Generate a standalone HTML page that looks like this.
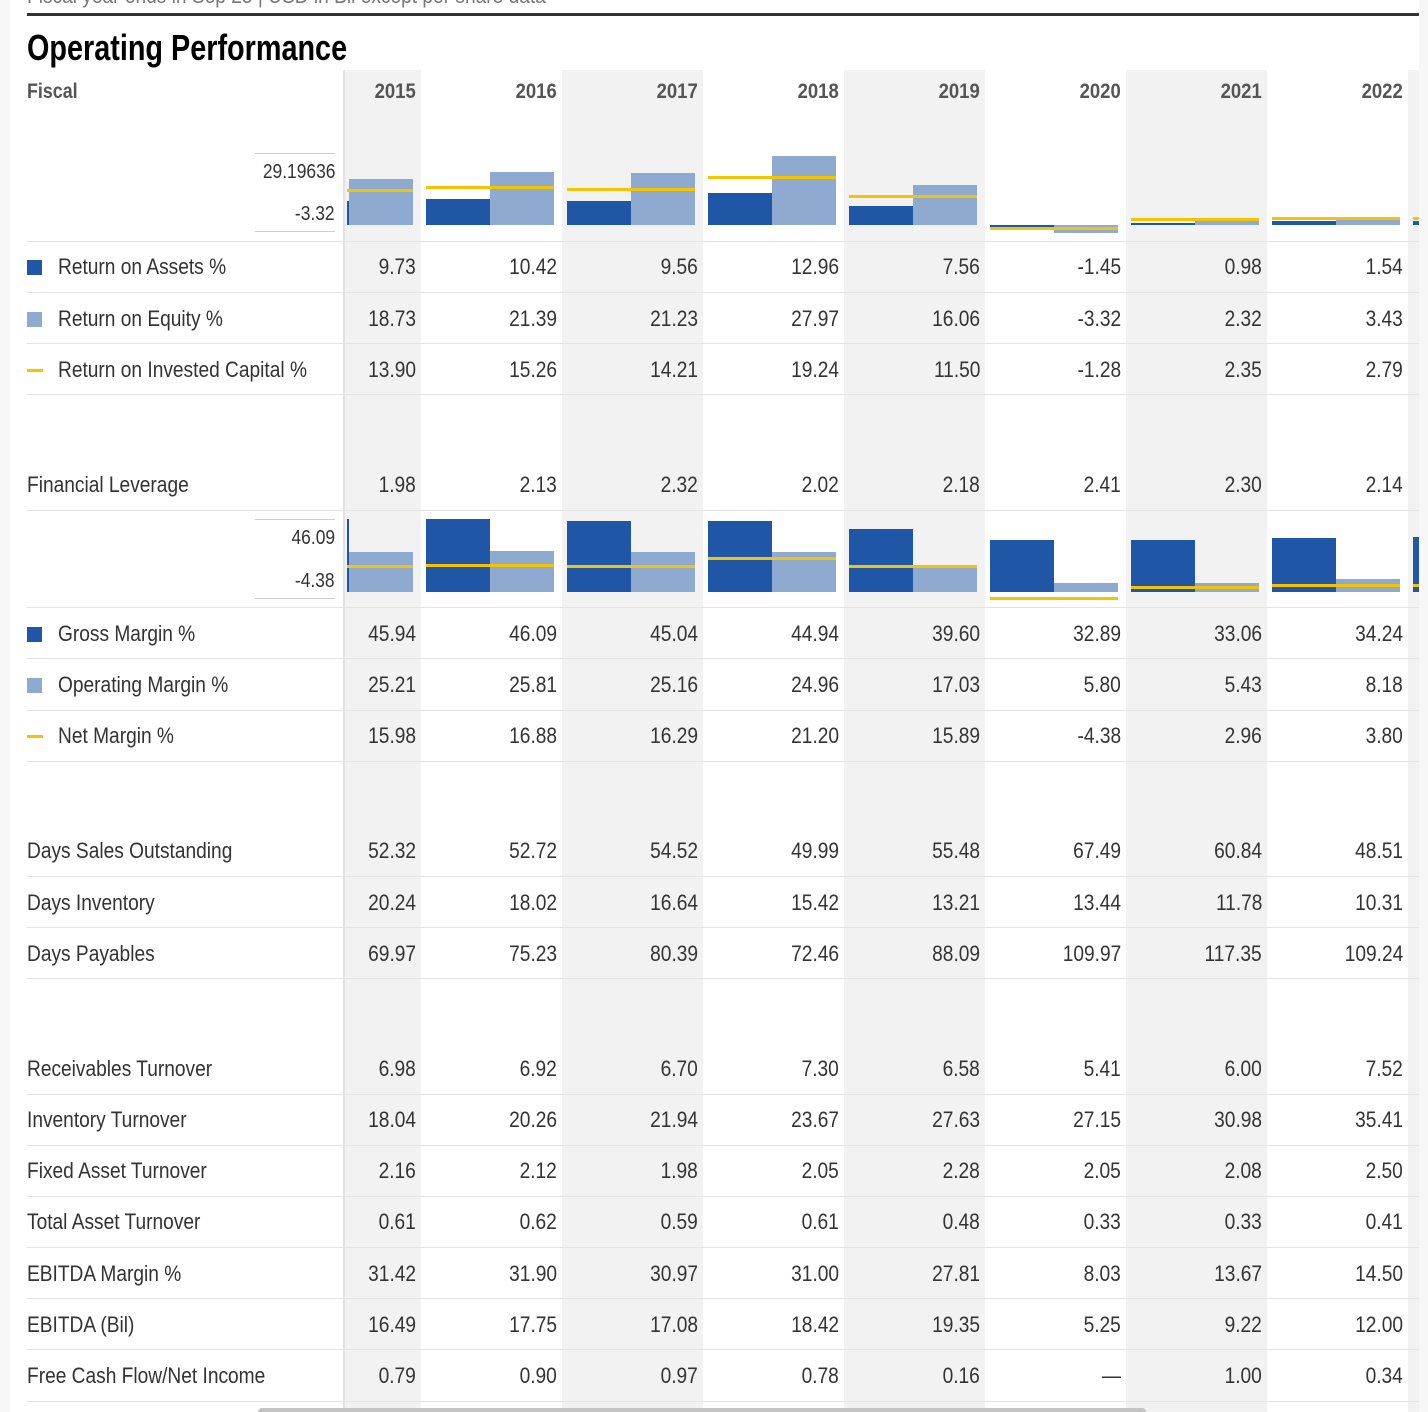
<!DOCTYPE html>
<html><head><meta charset="utf-8">
<style>
html,body{margin:0;padding:0;}
body{width:1428px;height:1412px;background:#f7f7f7;position:relative;overflow:hidden;font-family:"Liberation Sans Narrow","Liberation Sans",sans-serif;color:#333;}
#page{position:absolute;left:10px;top:0;width:1409px;height:1412px;background:#fff;overflow:hidden;}
.abs{position:absolute;}
.t{position:absolute;white-space:nowrap;line-height:30px;height:30px;}
</style></head>
<body>
<div id="page"></div>
<script>
const years=["2015","2016","2017","2018","2019","2020","2021","2022","2023"];
const roa=[9.73,10.42,9.56,12.96,7.56,-1.45,0.98,1.54,1.6];
const roe=[18.73,21.39,21.23,27.97,16.06,-3.32,2.32,3.43,3.5];
const roic=[13.90,15.26,14.21,19.24,11.50,-1.28,2.35,2.79,2.8];
const finLev=["1.98","2.13","2.32","2.02","2.18","2.41","2.30","2.14"];
const gross=[45.94,46.09,45.04,44.94,39.60,32.89,33.06,34.24,34.5];
const opm=[25.21,25.81,25.16,24.96,17.03,5.80,5.43,8.18,8.2];
const netm=[15.98,16.88,16.29,21.20,15.89,-4.38,2.96,3.80,3.9];
const dso=["52.32","52.72","54.52","49.99","55.48","67.49","60.84","48.51"];
const dinv=["20.24","18.02","16.64","15.42","13.21","13.44","11.78","10.31"];
const dpay=["69.97","75.23","80.39","72.46","88.09","109.97","117.35","109.24"];
const recT=["6.98","6.92","6.70","7.30","6.58","5.41","6.00","7.52"];
const invT=["18.04","20.26","21.94","23.67","27.63","27.15","30.98","35.41"];
const faT=["2.16","2.12","1.98","2.05","2.28","2.05","2.08","2.50"];
const taT=["0.61","0.62","0.59","0.61","0.48","0.33","0.33","0.41"];
const ebm=["31.42","31.90","30.97","31.00","27.81","8.03","13.67","14.50"];
const ebitda=["16.49","17.75","17.08","18.42","19.35","5.25","9.22","12.00"];
const fcf=["0.79","0.90","0.97","0.78","0.16","—","1.00","0.34"];

const P=document.getElementById('page');
const OX=10;
function box(x,y,w,h,bg,name){const d=document.createElement('div');d.className='abs';d.style.cssText=`left:${x-OX}px;top:${y}px;width:${w}px;height:${h}px;background:${bg}`;


P.appendChild(d);return d;}
function txt(s,x,cy,opt,name){const d=document.createElement('div');d.className='t';d.textContent=s;
d.style.top=(cy-15)+'px';d.style.fontSize=(opt.fs||22)+'px';d.style.color=opt.c||'#333';if(opt.b)d.style.fontWeight='bold';
const sx=opt.sx||0.87;
if(opt.r){d.style.right=(1409-(x-OX))+'px';d.style.transformOrigin='right center';}else{d.style.left=(x-OX)+'px';d.style.transformOrigin='left center';}
d.style.transform=`scaleX(${sx})`;


P.appendChild(d);return d;}
const colL=i=>280+141*i, colR=i=>421+141*i;

for(let i=0;i<years.length;i+=2){const l=Math.max(colL(i),345);box(l,70,colR(i)-l,1342,'#f2f2f2','column-shade-'+years[i]);}
box(343,70,2,1342,'#e2e2e2','label-column-divider');
txt('Fiscal year ends in Sep 25 | USD in Bil except per share data',27,-4,{fs:22,c:'#777'},'subtitle');
box(27,13,1392,3,'#333','top-rule');
txt('Operating Performance',27,48,{fs:36,c:'#000',b:true,sx:0.8},'section-title');
txt('Fiscal',27,92,{fs:21,c:'#555',b:true,sx:0.85},'fiscal-header');
for(let i=0;i<8;i++)txt(years[i],colR(i)-5,92,{fs:21,c:'#555',b:true,r:true,sx:0.88},'year-header-'+years[i]);

const seps=[241,292,343,394,510,607,658,710,761,876,927,978,1094,1145,1196,1247,1298,1349,1401];
seps.forEach((y,k)=>box(27,y,1392,1,'#e3e3e3','row-separator-'+k));

function chart(top,bot,zeroY,scale,darkA,lightA,lineA,maxL,minL,name){
  box(255,top,80,1,'#ccc',name+'-max-line');box(255,bot,80,1,'#ccc',name+'-min-line');
  txt(maxL,335,top+19,{fs:20,r:true},name+'-max-label');txt(minL,335,bot-17,{fs:20,r:true},name+'-min-label');
  const clip=document.createElement('div');clip.className='abs';clip.style.cssText=`left:${347-OX}px;top:${top-5}px;width:${1419-347}px;height:${bot-top+12}px;overflow:hidden`;
  
  
  P.appendChild(clip);
  const y=v=>zeroY-v*scale;
  function bar(x,v,c,n){const d=document.createElement('div');d.className='abs';const y0=Math.min(y(v),zeroY),h=Math.abs(y(v)-zeroY);
    d.style.cssText=`left:${x-347}px;top:${y0-top+5}px;width:64px;height:${Math.max(h,2)}px;background:${c}`;
    
    
    clip.appendChild(d);}
  for(let i=0;i<years.length;i++){
    const x=colL(i)+5;
    bar(x,darkA[i],'#1f56a6',name+'-dark-bar-'+years[i]);
    bar(x+64,lightA[i],'#8faad1',name+'-light-bar-'+years[i]);
    const l=document.createElement('div');l.className='abs';l.style.cssText=`left:${x-347}px;top:${y(lineA[i])-1.5-top+5}px;width:128px;height:3px;background:#f5c400`;
    
    
    clip.appendChild(l);
  }
}
chart(153,231,225,72/29.19636,roa,roe,roic,'29.19636','-3.32','returns-chart');
chart(519,598,592,73/46.09,gross,opm,netm,'46.09','-4.38','margins-chart');

function row(label,cy,vals,marker,name){
  let x=27;
  if(marker==='dark'||marker==='light'){box(27,cy-7,15,15,marker==='dark'?'#1f56a6':'#8faad1',name+'-legend-marker');x=58;}
  if(marker==='line'){box(27,cy-1,16,3,'#f5c400',name+'-legend-marker');x=58;}
  txt(label,x,cy,{fs:22},name+'-label');
  for(let i=0;i<8;i++)txt(vals[i],colR(i)-5,cy,{fs:22,r:true},name+'-value-'+years[i]);
}
const f2=a=>a.map(v=>v.toFixed(2));
row('Return on Assets %',267,f2(roa),'dark','return-on-assets');
row('Return on Equity %',319,f2(roe),'light','return-on-equity');
row('Return on Invested Capital %',370,f2(roic),'line','return-on-invested-capital');
row('Financial Leverage',485,finLev,null,'financial-leverage');
row('Gross Margin %',634,f2(gross),'dark','gross-margin');
row('Operating Margin %',685,f2(opm),'light','operating-margin');
row('Net Margin %',736,f2(netm),'line','net-margin');
row('Days Sales Outstanding',851,dso,null,'days-sales-outstanding');
row('Days Inventory',903,dinv,null,'days-inventory');
row('Days Payables',954,dpay,null,'days-payables');
row('Receivables Turnover',1069,recT,null,'receivables-turnover');
row('Inventory Turnover',1120,invT,null,'inventory-turnover');
row('Fixed Asset Turnover',1171,faT,null,'fixed-asset-turnover');
row('Total Asset Turnover',1222,taT,null,'total-asset-turnover');
row('EBITDA Margin %',1274,ebm,null,'ebitda-margin');
row('EBITDA (Bil)',1325,ebitda,null,'ebitda');
row('Free Cash Flow/Net Income',1376,fcf,null,'free-cash-flow-net-income');

const sb=box(258,1408,888,8,'#c4c4c4','horizontal-scrollbar');sb.style.borderRadius='4px';

</script>
</body></html>
